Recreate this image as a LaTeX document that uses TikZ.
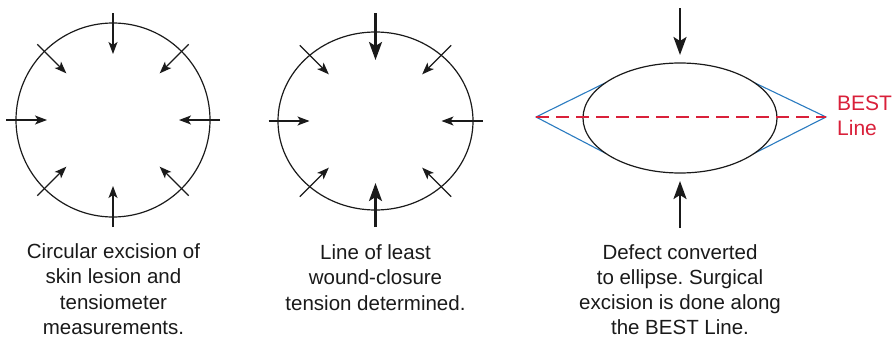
\documentclass[tikz,border=0pt]{standalone}
\usepackage{fontspec}
\setmainfont{Liberation Sans}
\usepackage{tikz}
\usetikzlibrary{positioning,arrows.meta,calc}
\definecolor{bestline}{HTML}{D9203A}
\definecolor{tangent}{HTML}{2A7BC0}
\definecolor{ink}{HTML}{1A1A1A}
\frenchspacing

\begin{document}
\begin{tikzpicture}[x=1pt, y=-1pt,
        outline/.style={draw=ink, line width=1.2pt},
        tens/.style={-{Stealth[length=12pt, width=9pt, inset=3pt]}, draw=ink, line width=1.2pt},
        strong/.style={-{Stealth[length=18pt, width=13pt, inset=4pt]}, draw=ink, line width=2.5pt},
        caption/.style={font=\fontsize{20.5}{25.3}\selectfont, text=ink, align=center, anchor=north, inner sep=0pt},
      ]
      \useasboundingbox (0, 0) rectangle (894, 340);

      % circular defect
      \coordinate (circ) at (113, 120);
      \draw[outline] (circ) circle [radius=97];
      \foreach \a in {0, 45, ..., 315}
        \draw[tens] ($(circ)+(\a:107)$) -- ($(circ)+(\a:66)$);

      % slightly oval defect
      \coordinate (oval) at (375.5, 121);
      \draw[outline] (oval) ellipse [x radius=97.5, y radius=89];
      \foreach \a in {0, 45, 135, 180, 225, 315}
        \draw[tens] ($(oval)+(\a:107)$) -- ($(oval)+(\a:66)$);
      \draw[strong] ($(oval)+(0, -108)$) -- ($(oval)+(0, -61)$);
      \draw[strong] ($(oval)+(0, 106)$) -- ($(oval)+(0, 62)$);

      % converted to ellipse
      \coordinate (ell) at (680, 118);
      \coordinate (tipL) at (536, 117);
      \coordinate (tipR) at (826, 117);
      \draw[tangent, line width=1.1pt] ($(ell)+(-75, -35)$) -- (tipL) -- ($(ell)+(-75, 35)$);
      \draw[tangent, line width=1.1pt] ($(ell)+(75, -35)$) -- (tipR) -- ($(ell)+(75, 35)$);
      \draw[outline] (ell) ellipse [x radius=97, y radius=55];
      \draw[bestline, line width=1.1pt, dash pattern=on 13pt off 7pt] (tipL) -- (tipR);
      \draw[strong] ($(ell)+(0, -110)$) -- ($(ell)+(0, -63)$);
      \draw[strong] ($(ell)+(0, 110)$) -- ($(ell)+(0, 63)$);

      \node[font=\fontsize{21}{25}\selectfont, text=bestline, align=left,
      anchor=north west, inner sep=0pt] (best) at (837, 96) {BEST\\Line};

      \node[caption] (cap1) at (113.5, 243.5) {Circular excision of\\skin lesion and\\tensiometer\\measurements.};
      \node[caption] (cap2) at (375.5, 244.5) {Line of least\\wound-closure\\tension determined.};
      \node[caption] (cap3) at (680, 244) {Defect converted\\to ellipse. Surgical\\excision is done along\\the BEST Line.};
    \end{tikzpicture}
\end{document}
